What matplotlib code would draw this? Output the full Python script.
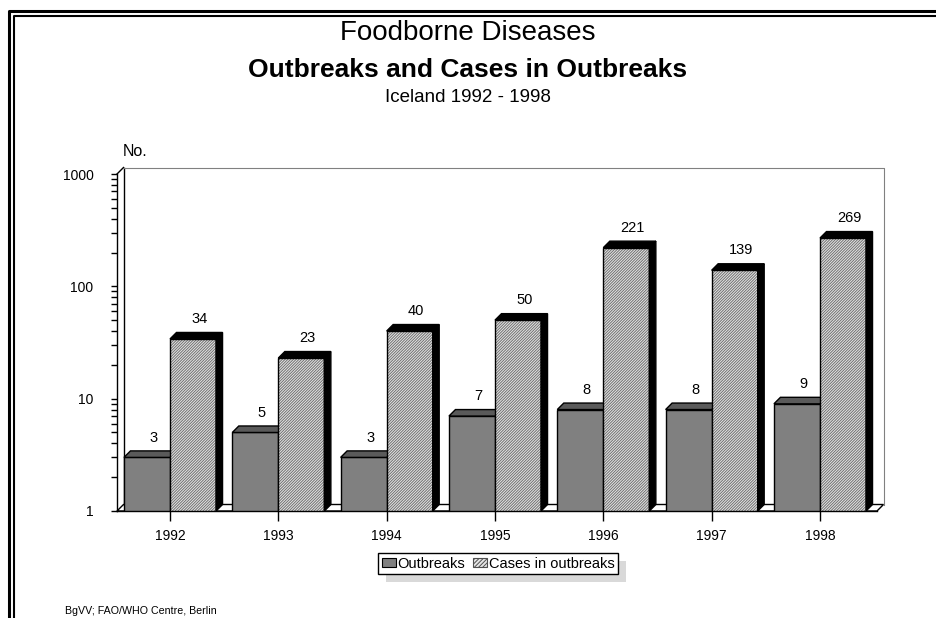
import numpy as np
import matplotlib
matplotlib.use('Agg')
import matplotlib.pyplot as plt
from matplotlib.patches import Polygon, Rectangle, Patch
from matplotlib.lines import Line2D
from matplotlib.ticker import LogLocator, FuncFormatter, NullFormatter

# Data
years = ['1992', '1993', '1994', '1995', '1996', '1997', '1998']
outbreaks = [3, 5, 3, 7, 8, 8, 9]
cases = [34, 23, 40, 50, 221, 139, 269]

plt.rcParams['font.family'] = ['Liberation Sans', 'DejaVu Sans']
plt.rcParams['hatch.linewidth'] = 0.7

W, H = 936, 618
fig = plt.figure(figsize=(W / 100, H / 100), dpi=100)

# front plane of the 3D box (pixels)
left_px, right_px, base_px, top_px = 117, 877, 511, 174
ax = fig.add_axes([left_px / W, 1 - base_px / H,
                   (right_px - left_px) / W, (base_px - top_px) / H])
ax.set_yscale('log')
ax.set_ylim(1, 1000)
step_px = 108.33
x_lo = (left_px - 170) / step_px
x_hi = (right_px - 170) / step_px
ax.set_xlim(x_lo, x_hi)
ax.patch.set_visible(False)

# depth of the 3D effect
depth = 6.5
dx = depth / step_px
fy = 10 ** (depth / ((base_px - top_px) / 3))

x = np.arange(len(years))
w = 0.425

# floor and back wall
ax.add_patch(Polygon([(x_lo, 1), (x_lo + dx, fy), (x_hi + dx, fy), (x_hi, 1)],
                     closed=True, facecolor='white', edgecolor='black', lw=1,
                     clip_on=False, zorder=1))
ax.plot([x_lo + dx, x_lo + dx], [fy, 1000 * fy], color='black', lw=1, clip_on=False, zorder=1)
ax.plot([x_lo + dx, x_hi + dx, x_hi + dx], [1000 * fy, 1000 * fy, fy],
        color='#808080', lw=0.8, clip_on=False, zorder=1)
ax.plot([x_lo, x_lo + dx], [1000, 1000 * fy], color='black', lw=1, clip_on=False, zorder=1)

# outbreaks bars
ax.bar(x - w, np.array(outbreaks) - 1, bottom=1, width=w, align='edge',
       color='#808080', edgecolor='black', lw=1, zorder=3)
for i, h in enumerate(outbreaks):
    xl, xr = x[i] - w, x[i]
    ax.add_patch(Polygon([(xl, h), (xl + dx, h * fy), (xr + dx, h * fy), (xr, h)],
                         closed=True, facecolor='#5a5a5a', edgecolor='black', lw=1, zorder=3))
    ax.text(xl + w / 2 + dx, h * 1.5, str(h), ha='center', va='center', fontsize=10.5, zorder=6)

# cases bars (hatched)
ax.bar(x, np.array(cases) - 1, bottom=1, width=w, align='edge',
       facecolor='#e6e6e6', edgecolor='#707070', lw=0, hatch='////////////', zorder=4)
ax.bar(x, np.array(cases) - 1, bottom=1, width=w, align='edge',
       fill=False, edgecolor='black', lw=1, zorder=4.1)
for i, h in enumerate(cases):
    xl, xr = x[i], x[i] + w
    ax.add_patch(Polygon([(xl, h), (xl + dx, h * fy), (xr + dx, h * fy), (xr, h)],
                         closed=True, facecolor='black', edgecolor='black', lw=1, zorder=4))
    ax.add_patch(Polygon([(xr, 1), (xr + dx, fy), (xr + dx, h * fy), (xr, h)],
                         closed=True, facecolor='black', edgecolor='black', lw=1, zorder=4))
    ax.text(xl + w / 2 + dx, h * 1.5, str(h), ha='center', va='center', fontsize=10.5, zorder=6)

# axes
for s in ['top', 'right']:
    ax.spines[s].set_visible(False)
ax.spines['left'].set_linewidth(1)
ax.spines['bottom'].set_linewidth(1)
ax.set_xticks(x, years)
ax.tick_params(axis='x', length=7, width=1, pad=6, labelsize=10)
ax.yaxis.set_major_locator(LogLocator(base=10))
ax.yaxis.set_minor_locator(LogLocator(base=10, subs=np.arange(2, 10)))
ax.yaxis.set_major_formatter(FuncFormatter(lambda v, _: f'{v:g}'))
ax.yaxis.set_minor_formatter(NullFormatter())
ax.tick_params(axis='y', which='both', length=4, width=1, pad=13, labelsize=10)

# titles
fig.text(0.5, 1 - 33 / H, 'Foodborne Diseases', ha='center', va='center', fontsize=20)
fig.text(0.5, 1 - 70 / H, 'Outbreaks and Cases in Outbreaks', ha='center', va='center',
         fontsize=19, fontweight='bold')
fig.text(0.5, 1 - 97 / H, 'Iceland 1992 - 1998', ha='center', va='center', fontsize=13.5)
fig.text(123 / W, 1 - 151 / H, 'No.', ha='left', va='center', fontsize=11.5)
fig.text(65 / W, 1 - 611 / H, 'BgVV; FAO/WHO Centre, Berlin', ha='left', va='center', fontsize=7.7)

# double frame
fig.add_artist(Line2D([9 / W, 9 / W, 1], [0, 1 - 11 / H, 1 - 11 / H],
                      transform=fig.transFigure, color='black', lw=2.2))
fig.add_artist(Line2D([14 / W, 14 / W, 1], [0, 1 - 16 / H, 1 - 16 / H],
                      transform=fig.transFigure, color='black', lw=1.5))

# legend with offset shadow
handles = [Patch(facecolor='#808080', edgecolor='black', lw=0.8, label='Outbreaks'),
           Patch(facecolor='#e6e6e6', edgecolor='#505050', hatch='////////', lw=0.8,
                 label='Cases in outbreaks')]
leg = fig.legend(handles=handles, loc='center', bbox_to_anchor=(498 / W, 1 - 563.5 / H),
                 ncol=2, frameon=True, fancybox=False, edgecolor='black', framealpha=1,
                 fontsize=10.5, handlelength=1.0, handleheight=0.6, handletextpad=0.1,
                 columnspacing=0.5, borderpad=0.25, borderaxespad=0)
leg.get_frame().set_linewidth(1)
fig.canvas.draw()
bb = leg.get_window_extent().transformed(fig.transFigure.inverted())
fig.add_artist(Rectangle((bb.x0 + 8 / W, bb.y0 - 8 / H), bb.width, bb.height,
                         transform=fig.transFigure, facecolor='#d9d9d9',
                         edgecolor='none', zorder=1))

fig.savefig('out.png', dpi=100)
